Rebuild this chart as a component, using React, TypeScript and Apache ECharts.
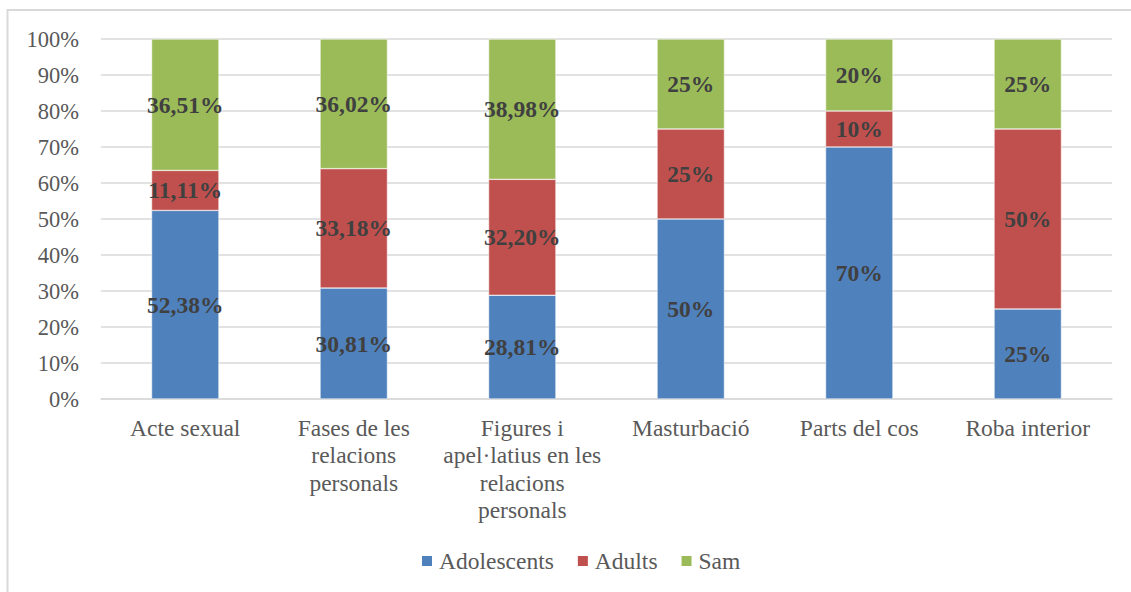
import React, { useEffect, useRef } from "react";
import * as echarts from "echarts";

const categories = [
  "Acte sexual",
  "Fases de les\nrelacions\npersonals",
  "Figures i\napel·latius en les\nrelacions\npersonals",
  "Masturbació",
  "Parts del cos",
  "Roba interior",
];
const adolescents = [52.38, 30.81, 28.81, 50, 70, 25];
const adults = [11.11, 33.18, 32.2, 25, 10, 50];
const sam = [36.51, 36.02, 38.98, 25, 20, 25];
const seriesNames = ["Adolescents", "Adults", "Sam"];
const colors = ["#4F81BD", "#C0504D", "#9BBB59"];

const FONT = "Liberation Serif";

function fmt(v: number): string {
  if (Number.isInteger(v)) return v + "%";
  return v.toFixed(2).replace(".", ",") + "%";
}

export default function App() {
  const ref = useRef<HTMLDivElement>(null);
  useEffect(() => {
    if (!ref.current) return;
    const chart = echarts.init(ref.current, null, { renderer: "svg" });
    const data = [adolescents, adults, sam];
    chart.setOption({
      animation: false,
      backgroundColor: "#ffffff",
      textStyle: { fontFamily: FONT },
      graphic: [
        {
          type: "rect",
          shape: { x: 7.5, y: 10, width: 1140, height: 600 },
          style: { fill: "none", stroke: "#d9d9d9", lineWidth: 2 },
          silent: true,
        },
      ],
      grid: { left: 101, right: 19, top: 39, bottom: 193 },
      legend: {
        bottom: 19,
        left: 420,
        padding: 0,
        itemWidth: 12,
        itemHeight: 12,
        itemGap: 22,
        icon: "rect",
        textStyle: { fontFamily: FONT, fontSize: 23.5, color: "#595959", padding: [0, 0, 0, 1] },
        data: seriesNames,
      },
      xAxis: {
        type: "category",
        data: categories,
        axisLine: { lineStyle: { color: "#d9d9d9", width: 1.5 } },
        axisTick: { show: false },
        axisLabel: {
          interval: 0,
          margin: 15,
          fontFamily: FONT,
          fontSize: 23.5,
          color: "#595959",
          lineHeight: 27.5,
          align: "center",
        },
      },
      yAxis: {
        type: "value",
        min: 0,
        max: 100,
        interval: 10,
        axisLine: { show: false },
        axisTick: { show: false },
        splitLine: { lineStyle: { color: "#d9d9d9", width: 1.5 } },
        axisLabel: {
          formatter: (v: number) => v + "%",
          fontFamily: FONT,
          fontSize: 22.5,
          color: "#595959",
          margin: 22,
        },
      },
      series: seriesNames.map((name, i) => ({
        name,
        type: "bar",
        stack: "total",
        barWidth: "40%",
        data: data[i],
        itemStyle: { color: colors[i], borderColor: "#ffffff", borderWidth: 0.5 },
        label: {
          show: true,
          position: "inside",
          formatter: (p: any) => fmt(p.value),
          fontFamily: FONT,
          fontSize: 23.5,
          fontWeight: "bold",
          color: "#404040",
        },
      })),
    });
    return () => chart.dispose();
  }, []);
  return (
    <div
      ref={ref}
      style={{ position: "fixed", left: 0, top: 0, width: 1131, height: 592 }}
    />
  );
}
